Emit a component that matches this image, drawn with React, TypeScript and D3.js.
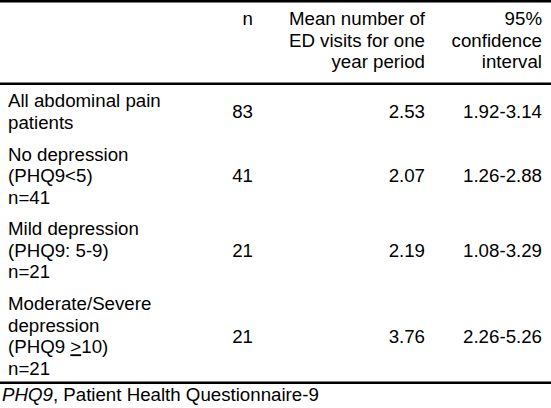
import React from "react";
import * as d3 from "d3";

const headerN = ["n"];
const headerMean = ["Mean number of", "ED visits for one", "year period"];
const headerCI = ["95%", "confidence", "interval"];

const categories: string[][] = [
  ["All abdominal pain", "patients"],
  ["No depression", "(PHQ9<5)", "n=41"],
  ["Mild depression", "(PHQ9: 5-9)", "n=21"],
  ["Moderate/Severe", "depression", "(PHQ9 >10)", "n=21"],
];
const nValues = [83, 41, 21, 21];
const meanVisits = [2.53, 2.07, 2.19, 3.76];
const ciLow = [1.92, 1.26, 1.08, 2.26];
const ciHigh = [3.14, 2.88, 3.29, 5.26];
const footnoteAbbr = "PHQ9";
const footnoteText = ", Patient Health Questionnaire-9";

const W = 551;
const H = 408;
const FS = 18.7;
const LH = 21.5;
const PAD = 10.3;
const ASC = 18.2;
const FONT = "'Liberation Sans', Arial, Helvetica, sans-serif";

const colX = { label: 8, n: 253, mean: 425, ci: 542 };

function Label({ text, x, y }: { text: string; x: number; y: number }) {
  const idx = text.indexOf(">1");
  if (idx >= 0) {
    return (
      <text x={x} y={y}>
        <tspan>{text.slice(0, idx)}</tspan>
        <tspan style={{ textDecoration: "underline" }}>{">"}</tspan>
        <tspan>{text.slice(idx + 1)}</tspan>
      </text>
    );
  }
  return (
    <text x={x} y={y}>
      {text}
    </text>
  );
}

export default function App() {
  const fmt = d3.format(".2f");
  const headerTop = 2;
  const headerBottom = 84;
  const bodyBottom = 382.5;

  const rowHeights = categories.map((c) => c.length * LH + PAD);
  const cum = Array.from(d3.cumsum(rowHeights));
  const rowTops = [headerBottom, ...cum.slice(0, -1).map((v) => headerBottom + v)];

  const headerBaseline = (i: number) => headerTop + PAD / 2 + ASC + i * LH;

  return (
    <svg
      width={W}
      height={H}
      style={{ position: "absolute", left: 0, top: 0, background: "#fff" }}
      fontFamily={FONT}
      fontSize={FS}
      fill="#000"
    >
      <rect x={0} y={0} width={W} height={H} fill="#fff" />
      {/* rules */}
      <rect x={0} y={0} width={W} height={2.5} fill="#000" />
      <rect x={0} y={headerBottom - 1.5} width={W} height={2.5} fill="#000" />
      <rect x={0} y={bodyBottom - 1} width={W} height={2.5} fill="#000" />

      {/* header */}
      <g textAnchor="end">
        {headerN.map((t, i) => (
          <text key={"hn" + i} x={colX.n} y={headerBaseline(i)}>
            {t}
          </text>
        ))}
        {headerMean.map((t, i) => (
          <text key={"hm" + i} x={colX.mean} y={headerBaseline(i)}>
            {t}
          </text>
        ))}
        {headerCI.map((t, i) => (
          <text key={"hc" + i} x={colX.ci} y={headerBaseline(i)}>
            {t}
          </text>
        ))}
      </g>

      {/* body */}
      {categories.map((lines, r) => {
        const top = rowTops[r];
        const first = top + PAD / 2 + ASC;
        const mid = first + ((lines.length - 1) * LH) / 2;
        return (
          <g key={"row" + r}>
            {lines.map((t, i) => (
              <Label key={i} text={t} x={colX.label} y={first + i * LH} />
            ))}
            <g textAnchor="end">
              <text x={colX.n} y={mid}>
                {nValues[r]}
              </text>
              <text x={colX.mean} y={mid}>
                {fmt(meanVisits[r])}
              </text>
              <text x={colX.ci} y={mid}>
                {fmt(ciLow[r])}-{fmt(ciHigh[r])}
              </text>
            </g>
          </g>
        );
      })}

      {/* footnote */}
      <text x={2} y={401}>
        <tspan fontStyle="italic">{footnoteAbbr}</tspan>
        <tspan>{footnoteText}</tspan>
      </text>
    </svg>
  );
}
